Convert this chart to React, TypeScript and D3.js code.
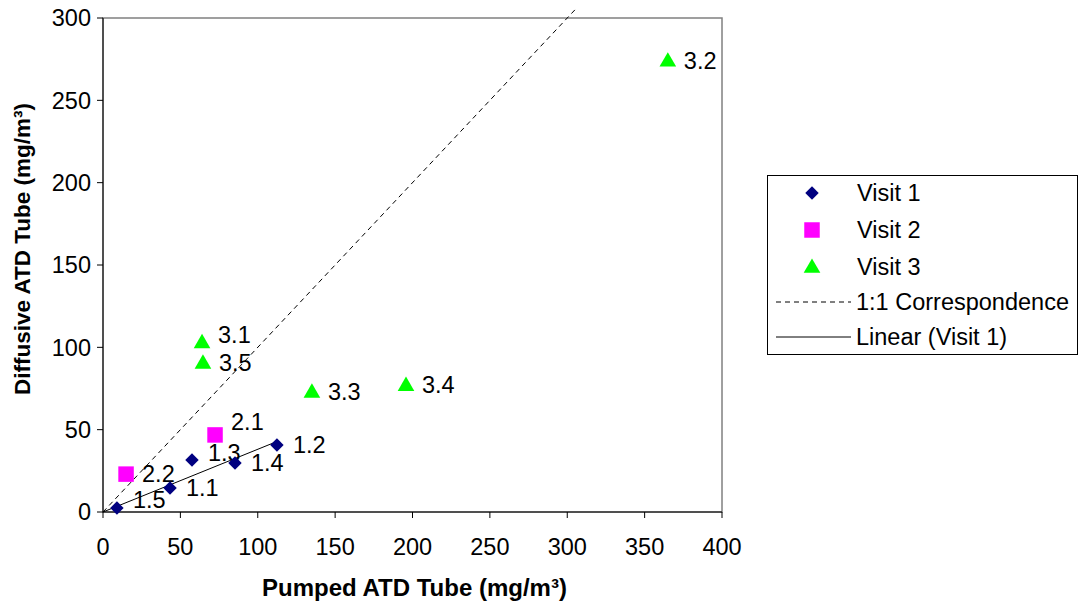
import React from "react";
import * as d3 from "d3";

const visit1X = [43.3, 112.4, 57.5, 85.3, 9];
const visit1Y = [14.6, 40.7, 31.6, 29.8, 2.4];
const visit1Labels = ["1.1", "1.2", "1.3", "1.4", "1.5"];

const visit2X = [72.4, 14.9];
const visit2Y = [46.8, 23];
const visit2Labels = ["2.1", "2.2"];

const visit3X = [64, 365, 135, 195.8, 64.6];
const visit3Y = [103, 274, 72.9, 77, 90.5];
const visit3Labels = ["3.1", "3.2", "3.3", "3.4", "3.5"];

const oneToOneX = [0, 305];
const oneToOneY = [0, 305];

const xTicks = [0, 50, 100, 150, 200, 250, 300, 350, 400];
const yTicks = [0, 50, 100, 150, 200, 250, 300];

const legendLabels = ["Visit 1", "Visit 2", "Visit 3", "1:1 Correspondence", "Linear (Visit 1)"];

const W = 1080;
const H = 605;
const left = 103;
const right = 722;
const top = 18;
const bottom = 512;

// manual vertical nudges of data labels (pixels), as in the reference
const labelNudge: Record<string, number> = { "3.1": -8, "2.1": -13, "1.3": -7, "1.5": -8 };

export default function App() {
  const x = d3.scaleLinear().domain([0, 400]).range([left, right]);
  const y = d3.scaleLinear().domain([0, 300]).range([bottom, top]);
  const font = "Arial, 'Liberation Sans', sans-serif";

  // linear trendline through origin for Visit 1
  const sxy = d3.sum(visit1X.map((v, i) => v * visit1Y[i]));
  const sxx = d3.sum(visit1X.map((v) => v * v));
  const slope = sxy / sxx;
  const maxX1 = d3.max(visit1X) as number;
  const line = d3.line<[number, number]>().x((d) => x(d[0])).y((d) => y(d[1]));

  const diamond = d3.symbol().type(d3.symbolDiamond2).size(115);
  const square = d3.symbol().type(d3.symbolSquare).size(240);
  const triangle = d3.symbol().type(d3.symbolTriangle).size(120);

  const labelStyle = { fontFamily: font, fontSize: 23.5, fill: "#000" } as const;

  const renderSeries = (xs: number[], ys: number[], labels: string[], path: string, color: string, dy = 0) =>
    xs.map((v, i) => (
      <g key={labels[i]}>
        <path d={path} transform={`translate(${x(v)},${y(ys[i]) + dy})`} fill={color} />
        <text x={x(v) + 16} y={y(ys[i]) + (labelNudge[labels[i]] || 0)} dy="0.35em" style={labelStyle}>
          {labels[i]}
        </text>
      </g>
    ));

  const legendY = [193, 230, 267, 302, 337];

  return (
    <svg width={W} height={H} style={{ position: "absolute", left: 0, top: 0, background: "#fff" }}>
      <rect x={0} y={0} width={W} height={H} fill="#fff" />
      {/* plot border */}
      <rect x={left} y={top} width={right - left} height={bottom - top} fill="none" stroke="#808080" strokeWidth={1.5} />
      {/* axes */}
      <line x1={left} x2={left} y1={top} y2={bottom} stroke="#000" />
      <line x1={left} x2={right} y1={bottom} y2={bottom} stroke="#000" />
      {xTicks.map((t) => (
        <g key={"x" + t}>
          <line x1={x(t)} x2={x(t)} y1={bottom} y2={bottom + 6} stroke="#000" />
          <text x={x(t)} y={555} textAnchor="middle" style={labelStyle}>
            {t}
          </text>
        </g>
      ))}
      {yTicks.map((t) => (
        <g key={"y" + t}>
          <line x1={left - 6} x2={left} y1={y(t)} y2={y(t)} stroke="#000" />
          <text x={left - 12} y={y(t)} dy="0.35em" textAnchor="end" style={labelStyle}>
            {t}
          </text>
        </g>
      ))}
      <text x={(left + right) / 2 + 2} y={596} textAnchor="middle" style={{ fontFamily: font, fontSize: 24, fontWeight: "bold" }}>
        Pumped ATD Tube (mg/m³)
      </text>
      <text
        transform={`translate(30,249) rotate(-90)`}
        textAnchor="middle"
        style={{ fontFamily: font, fontSize: 22.5, fontWeight: "bold" }}
      >
        Diffusive ATD Tube (mg/m³)
      </text>
      {/* 1:1 line */}
      <path
        d={line(oneToOneX.map((v, i) => [v, oneToOneY[i]]) as [number, number][]) || ""}
        stroke="#000"
        strokeWidth={1}
        strokeDasharray="5,4"
        fill="none"
      />
      {/* trendline */}
      <path d={line([[0, 0], [maxX1, slope * maxX1]]) || ""} stroke="#000" strokeWidth={1} fill="none" />
      {renderSeries(visit2X, visit2Y, visit2Labels, square(), "#FF00FF")}
      {renderSeries(visit3X, visit3Y, visit3Labels, triangle(), "#00FF00", 1)}
      {renderSeries(visit1X, visit1Y, visit1Labels, diamond(), "#000080")}
      {/* legend */}
      <rect x={767.5} y={175.5} width={310} height={179} fill="#fff" stroke="#000" strokeWidth={1} />
      <path d={diamond()} transform={`translate(812,${legendY[0]})`} fill="#000080" />
      <path d={square()} transform={`translate(812,${legendY[1]})`} fill="#FF00FF" />
      <path d={triangle()} transform={`translate(812,${legendY[2] + 1})`} fill="#00FF00" />
      <line x1={776} x2={851} y1={legendY[3]} y2={legendY[3]} stroke="#000" strokeDasharray="5,4" />
      <line x1={776} x2={851} y1={legendY[4]} y2={legendY[4]} stroke="#000" />
      {legendLabels.map((l, i) => (
        <text key={l} x={i < 3 ? 857 : 856} y={legendY[i]} dy="0.35em" style={labelStyle}>
          {l}
        </text>
      ))}
    </svg>
  );
}
